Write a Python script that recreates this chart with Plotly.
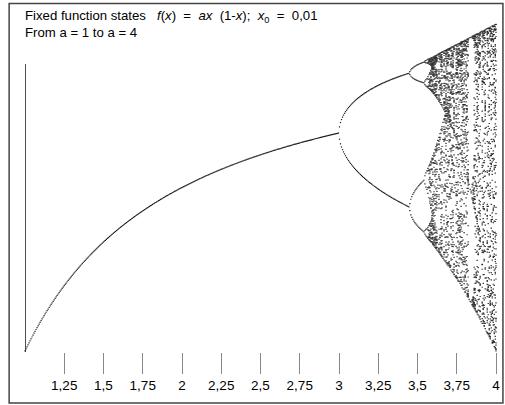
import numpy as np
import plotly.graph_objects as go

# Chart definition (as stated in the chart's title): f(x) = a x (1 - x), x0 = 0.01, a from 1 to 4
A_START = 1.0
A_END = 4.0
A_STEP = 0.0064
X0 = 0.01
N_TRANSIENT = 1500
N_KEEP = 60

tick_vals = [1.25, 1.5, 1.75, 2, 2.25, 2.5, 2.75, 3, 3.25, 3.5, 3.75, 4]
tick_text = ["1,25", "1,5", "1,75", "2", "2,25", "2,5", "2,75", "3", "3,25", "3,5", "3,75", "4"]

a_values = np.arange(A_START, A_END + A_STEP / 2, A_STEP)
a_values[-1] = min(a_values[-1], A_END)
x = np.full(a_values.shape, X0)
for _ in range(N_TRANSIENT):
    x = a_values * x * (1 - x)
pts_a, pts_x = [], []
seen = [set() for _ in a_values]
for _ in range(N_KEEP):
    x = a_values * x * (1 - x)
    for i, (ai, xi) in enumerate(zip(a_values, x)):
        key = int(round(xi * 330))
        if key not in seen[i]:
            seen[i].add(key)
            pts_a.append(ai)
            pts_x.append(xi)

fig = go.Figure()
fig.add_trace(go.Scatter(
    x=pts_a, y=pts_x, mode="markers",
    marker=dict(symbol="square", size=1.2, color="#1a1a1a", line=dict(width=0)),
    hoverinfo="skip", showlegend=False, cliponaxis=False,
))

fig.add_shape(type="line", xref="x", yref="y", x0=1, x1=1, y0=-0.028, y1=0.878,
              line=dict(color="#222222", width=1.6))
fig.add_shape(type="rect", xref="paper", yref="paper",
              x0=(9 - 25) / 475, x1=(507 - 25) / 475,
              y0=(352 - 403) / 332, y1=(352 - 3.5) / 332,
              line=dict(color="#444444", width=1.5))

fig.add_annotation(
    xref="paper", yref="paper", x=(23 - 25) / 475, y=(352 - 6) / 332,
    xanchor="left", yanchor="top", align="left", showarrow=False,
    text=("Fixed function states&nbsp;&nbsp; <i>f</i>(<i>x</i>)&nbsp; =&nbsp; <i>ax</i>&nbsp; (1-<i>x</i>);&nbsp; "
          "<i>x</i><sub>0</sub>&nbsp; =&nbsp; 0,01<br>From a = 1 to a = 4"),
    font=dict(family="Liberation Sans, Arial, sans-serif", size=13.2, color="black"),
)

fig.update_layout(
    width=505, height=405,
    margin=dict(l=25, r=5, t=20, b=53),
    paper_bgcolor="white", plot_bgcolor="white",
    font=dict(family="Liberation Sans, Arial, sans-serif", size=13.5, color="black"),
    xaxis=dict(range=[1, 4], tickvals=tick_vals, ticktext=tick_text, ticks="outside",
               ticklen=21, tickcolor="#888888", tickwidth=1, showgrid=False,
               zeroline=False, showline=False, fixedrange=True,
               tickfont=dict(size=13.5)),
    yaxis=dict(range=[-0.003, 1.0122], visible=False, showgrid=False, zeroline=False,
               fixedrange=True),
)

fig.write_html("out.html", config={"displayModeBar": False, "staticPlot": True},
               post_script="document.body.style.margin='0';document.body.style.padding='0';")
